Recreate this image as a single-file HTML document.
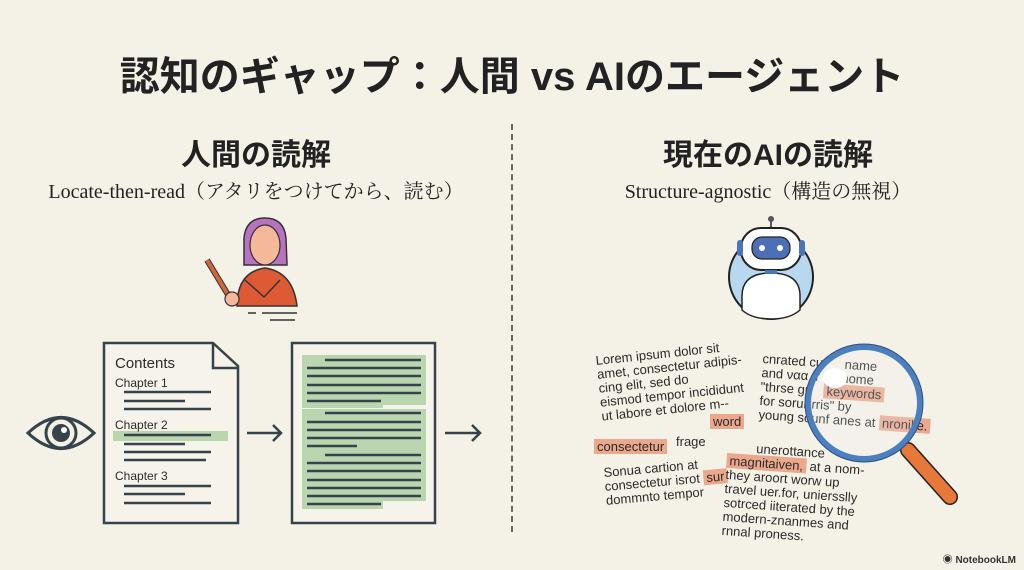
<!DOCTYPE html>
<html><head><meta charset="utf-8"><style>
body{margin:0;width:1024px;height:570px;background:#f4f1e7;position:relative;overflow:hidden;font-family:"Liberation Sans","Noto Sans CJK JP",sans-serif;color:#222;}
.a{position:absolute;white-space:nowrap;}
.t{font-size:13px;line-height:15px;color:#2a2a2a;}
.h{background:#eba88c;padding:0 3px;}
</style></head><body>
<div class="a" style="left:0;width:1024px;top:44px;text-align:center;font-size:40px;font-weight:bold;">認知のギャップ：人間 vs AIのエージェント</div>
<div class="a" style="left:0;width:512px;top:130px;text-align:center;font-size:30px;font-weight:bold;">人間の読解</div>
<div class="a" style="left:0;width:512px;top:175px;text-align:center;font-size:20px;font-family:'Liberation Serif','Noto Serif CJK SC',serif;">Locate-then-read（アタリをつけてから、読む）</div>
<div class="a" style="left:512px;width:512px;top:130px;text-align:center;font-size:30px;font-weight:bold;">現在のAIの読解</div>
<div class="a" style="left:512px;width:512px;top:175px;text-align:center;font-size:20px;font-family:'Liberation Serif','Noto Serif CJK SC',serif;">Structure-agnostic（構造の無視）</div>
<div class="a" style="left:511px;top:124px;height:408px;border-left:2px dashed #666;"></div>

<svg class="a" style="left:0;top:0" width="1024" height="570">
 <path d="M244 238 Q246 218 265 218 Q284 218 286 238 L287 265 L244 265 Z" fill="#b773c0" stroke="#333" stroke-width="1.5"/>
 <ellipse cx="265" cy="245" rx="15" ry="20" fill="#f5b898" stroke="#333" stroke-width="1.2"/>
 <path d="M237 306 Q237 272 265 268 Q293 272 297 306 Z" fill="#de5a34" stroke="#333" stroke-width="1.5"/>
 <path d="M245 280 L264 297 L280 280" fill="none" stroke="#333" stroke-width="1.5"/>
 <line x1="207" y1="260" x2="230" y2="298" stroke="#333" stroke-width="6"/><line x1="207" y1="260" x2="230" y2="298" stroke="#d0653e" stroke-width="4"/>
 <circle cx="232" cy="299" r="7" fill="#f5b898" stroke="#333" stroke-width="1.2"/>
 <path d="M248 313h8M262 313h35M270 320h25" stroke="#333" stroke-width="1.5"/>
 <path d="M28 433 Q61 402 94 433 Q61 464 28 433Z" fill="none" stroke="#37434a" stroke-width="3"/>
 <circle cx="61" cy="433" r="15" fill="none" stroke="#37434a" stroke-width="3"/>
 <circle cx="61" cy="433" r="9" fill="#37434a"/><circle cx="64" cy="430" r="3" fill="#fff"/>
 <path d="M104 343 H213 L238 366 V523 H104 Z" fill="#f6f3ea" stroke="#37434a" stroke-width="2.5"/>
 <path d="M213 343 V368 H238" fill="none" stroke="#37434a" stroke-width="2.5"/>
 <rect x="113" y="431" width="115" height="10" fill="#b9d6b0"/>
 <g stroke="#37434a" stroke-width="2.5">
  <path d="M124 392h87M124 401h61M124 409h87M124 435h87M124 444h61M124 452h87M124 460h82M124 486h87M124 494h61M124 503h87"/>
 </g>
 <text x="115" y="368" font-size="15" fill="#2a2a2a">Contents</text>
 <text x="115" y="387" font-size="12" fill="#2a2a2a">Chapter 1</text>
 <text x="115" y="429" font-size="12" fill="#2a2a2a">Chapter 2</text>
 <text x="115" y="480" font-size="12" fill="#2a2a2a">Chapter 3</text>
 <g stroke="#37434a" stroke-width="2.5" fill="none"><path d="M247 433h34M273 425l8 8-8 8"/><path d="M445 433h35M472 425l8 8-8 8"/></g>
 <rect x="292" y="343" width="143" height="180" fill="#f6f3ea" stroke="#37434a" stroke-width="2.5"/>
 <path d="M302 355h124v50h-43v3h-81Z" fill="#b9d6b0"/>
 <path d="M302 409h124v92h-43v8h-81Z" fill="#b9d6b0"/>
 <g stroke="#37434a" stroke-width="2.5">
  <path d="M325 360h96M307 368h114M307 376h114M307 385h114M307 393h114M307 401h74M325 413h96M307 422h114M307 430h114M307 438h114M307 446h50M325 455h96M307 463h114M307 471h114M307 480h114M307 488h114M307 496h114M307 504h74"/>
 </g>
 <circle cx="771" cy="277" r="42" fill="#b8d8ef" stroke="#222" stroke-width="2"/>
 <path d="M742 310 V296 Q742 273 771 273 Q800 273 800 296 V310 Q790 319 771 319 Q752 319 742 310Z" fill="#fff" stroke="#222" stroke-width="1.5"/>
 <line x1="771" y1="221" x2="771" y2="229" stroke="#222" stroke-width="1.5"/><circle cx="771" cy="219" r="3" fill="#555"/>
 <rect x="741" y="228" width="60" height="42" rx="20" fill="#fff" stroke="#222" stroke-width="2"/>
 <rect x="737" y="240" width="6" height="16" rx="3" fill="#4d73b8"/><rect x="799" y="240" width="6" height="16" rx="3" fill="#4d73b8"/>
 <rect x="752" y="237" width="38" height="22" rx="10" fill="#4d6fb5" stroke="#222" stroke-width="1.2"/>
 <circle cx="762" cy="248" r="3" fill="#fff"/><circle cx="780" cy="248" r="3" fill="#fff"/>
 <rect x="765" y="270" width="12" height="4" fill="#4d73b8"/>
</svg>

<div class="a t" style="left:595px;top:354px;transform:rotate(-6deg);transform-origin:left top;line-height:14px;">Lorem ipsum dolor sit<br>amet, consectetur adipis-<br>cing elit, sed do<br>eismod tempor incididunt<br>ut labore et dolore m--</div>
<div class="a t h" style="left:710px;top:414px;">word</div>
<div class="a t h" style="left:594px;top:439px;">consectetur</div>
<div class="a t" style="left:676px;top:434px;">frage</div>
<div class="a t" style="left:603px;top:466px;transform:rotate(-5deg);transform-origin:left top;line-height:14px;">Sonua cartion at<br>consectetur isrot <span class="h">sur</span><br>dommnto tempor</div>
<div class="a t" style="left:763px;top:352px;transform:rotate(4deg);transform-origin:left top;line-height:14px;">cnrated cu&nbsp;&nbsp;&nbsp;&nbsp;&nbsp;&nbsp;name<br>and ναα tr&nbsp;&nbsp;&nbsp;&nbsp;&nbsp;&nbsp;nome<br>"thrse gr&nbsp;&nbsp;&nbsp;&nbsp;<span class="h">keywords</span><br>for sorur rris" by<br>young sounf anes at <span class="h">nronilie.</span></div>
<div class="a t" style="left:728px;top:440px;transform:rotate(4deg);transform-origin:left top;line-height:14px;">&nbsp;&nbsp;&nbsp;&nbsp;&nbsp;&nbsp;&nbsp;&nbsp;unerottance<br><span class="h">magnitaiven,</span> at a nom-<br>they aroort worw up<br>travel uer.for, uniersslly<br>sotrced iiterated by the<br>modern-znanmes and<br>rnnal proness.</div>

<svg class="a" style="left:0;top:0" width="1024" height="570">
 <line x1="908" y1="450" x2="950" y2="497" stroke="#222" stroke-width="16" stroke-linecap="round"/>
 <line x1="908" y1="450" x2="950" y2="497" stroke="#e8773a" stroke-width="13" stroke-linecap="round"/>
 <circle cx="864" cy="403" r="56" fill="rgba(240,245,250,0.2)" stroke="#4b7fbf" stroke-width="6"/>
 <circle cx="864" cy="403" r="59" fill="none" stroke="#2d4f80" stroke-width="1"/>
 <ellipse cx="835" cy="378" rx="12" ry="10" fill="#fff"/>
</svg>
<div class="a" style="right:8px;bottom:4px;font-size:10px;font-weight:bold;color:#333;">◉ NotebookLM</div>
</body></html>
